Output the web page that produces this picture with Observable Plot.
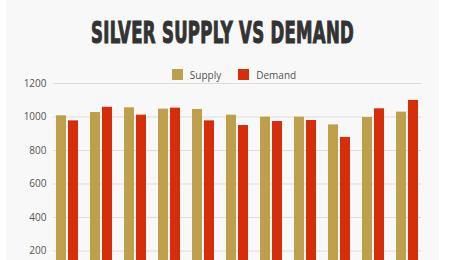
<!DOCTYPE html>
<html><head><meta charset="utf-8">
<script src="https://cdn.jsdelivr.net/npm/d3@7"></script>
<script src="https://cdn.jsdelivr.net/npm/@observablehq/plot@0.6"></script>
<style>
body{margin:0;background:#fff;}
#card{position:absolute;left:6px;top:0;width:433px;height:260px;background:#f8f8f8;overflow:hidden;}
#title{position:absolute;left:0;top:18px;width:433px;text-align:center;font-size:30px;line-height:30px;white-space:nowrap;}
#title span{display:inline-block;font-family:"Liberation Sans Narrow","DejaVu Sans Condensed",sans-serif;font-weight:bold;color:#333;-webkit-text-stroke:1.1px #333;transform-origin:50% 50%;letter-spacing:0.5px;}
#legend{position:absolute;left:44px;top:68px;width:368px;height:13px;display:flex;justify-content:center;align-items:center;z-index:2;font-family:"Open Sans",sans-serif;font-size:10px;color:#555;}
#legend .sw{width:11px;height:11px;margin-right:7px;}
#legend .it{display:flex;align-items:center;}
#chart{position:absolute;left:0;top:70px;}
</style></head>
<body>
<div id="card">
  <div id="title"><span id="ttl">SILVER SUPPLY VS DEMAND</span></div>
  <div id="legend"></div>
  <div id="chart"></div>
</div>
<script>
const categories = ["2014","2015","2016","2017","2018","2019","2020","2021","2022","2023","2024"];
const seriesNames = ["Supply","Demand"];
const supply = [1007,1027,1055,1047,1045,1011,999,999,953,997,1029];
const demand = [977,1058,1011,1053,977,949,973,979,878,1049,1099];
const colors = ["#bea04c","#d62d0a"];
const yTicks = [200,400,600,800,1000,1200];

// title scaling to condensed width
const ttl = document.getElementById("ttl");
const w = ttl.getBoundingClientRect().width;
ttl.style.transform = `scaleX(${263 / w})`;

// legend
const legend = document.getElementById("legend");
seriesNames.forEach((s, i) => {
  const it = document.createElement("div");
  it.className = "it";
  if (i > 0) it.style.marginLeft = "17px";
  const sw = document.createElement("div");
  sw.className = "sw";
  sw.style.background = colors[i];
  const t = document.createElement("span");
  t.textContent = s;
  it.appendChild(sw); it.appendChild(t);
  legend.appendChild(it);
});

const supplyData = categories.map((c, i) => ({category: c, series: "Supply", value: supply[i]}));
const demandData = categories.map((c, i) => ({category: c, series: "Demand", value: demand[i]}));

const width = 433, marginLeft = 47, marginRight = 18;
const padInner = 0.34;
const xScale = d3.scaleBand().domain(categories).range([marginLeft, width - marginRight]).paddingInner(padInner).paddingOuter(0);
const half = xScale.bandwidth() / 2;
const gap = 0.6;

const chart = Plot.plot({
  width,
  height: 244,
  marginLeft,
  marginRight,
  marginTop: 13,
  marginBottom: 30,
  style: {background: "transparent", fontFamily: "'Open Sans', sans-serif"},
  x: {domain: categories, paddingInner: padInner, paddingOuter: 0, axis: null},
  y: {domain: [0, 1200], axis: null},
  color: {domain: seriesNames, range: colors},
  marks: [
    Plot.gridY(yTicks, {stroke: "#dddddd", strokeOpacity: 1}),
    Plot.axisY(yTicks, {tickSize: 0, tickPadding: 7, fontSize: 10, color: "#555", label: null, tickFormat: d => String(d)}),
    Plot.barY(supplyData, {x: "category", y: "value", fill: "series", insetRight: half + gap}),
    Plot.barY(demandData, {x: "category", y: "value", fill: "series", insetLeft: half + gap})
  ]
});
document.getElementById("chart").appendChild(chart);
</script>
</body></html>
